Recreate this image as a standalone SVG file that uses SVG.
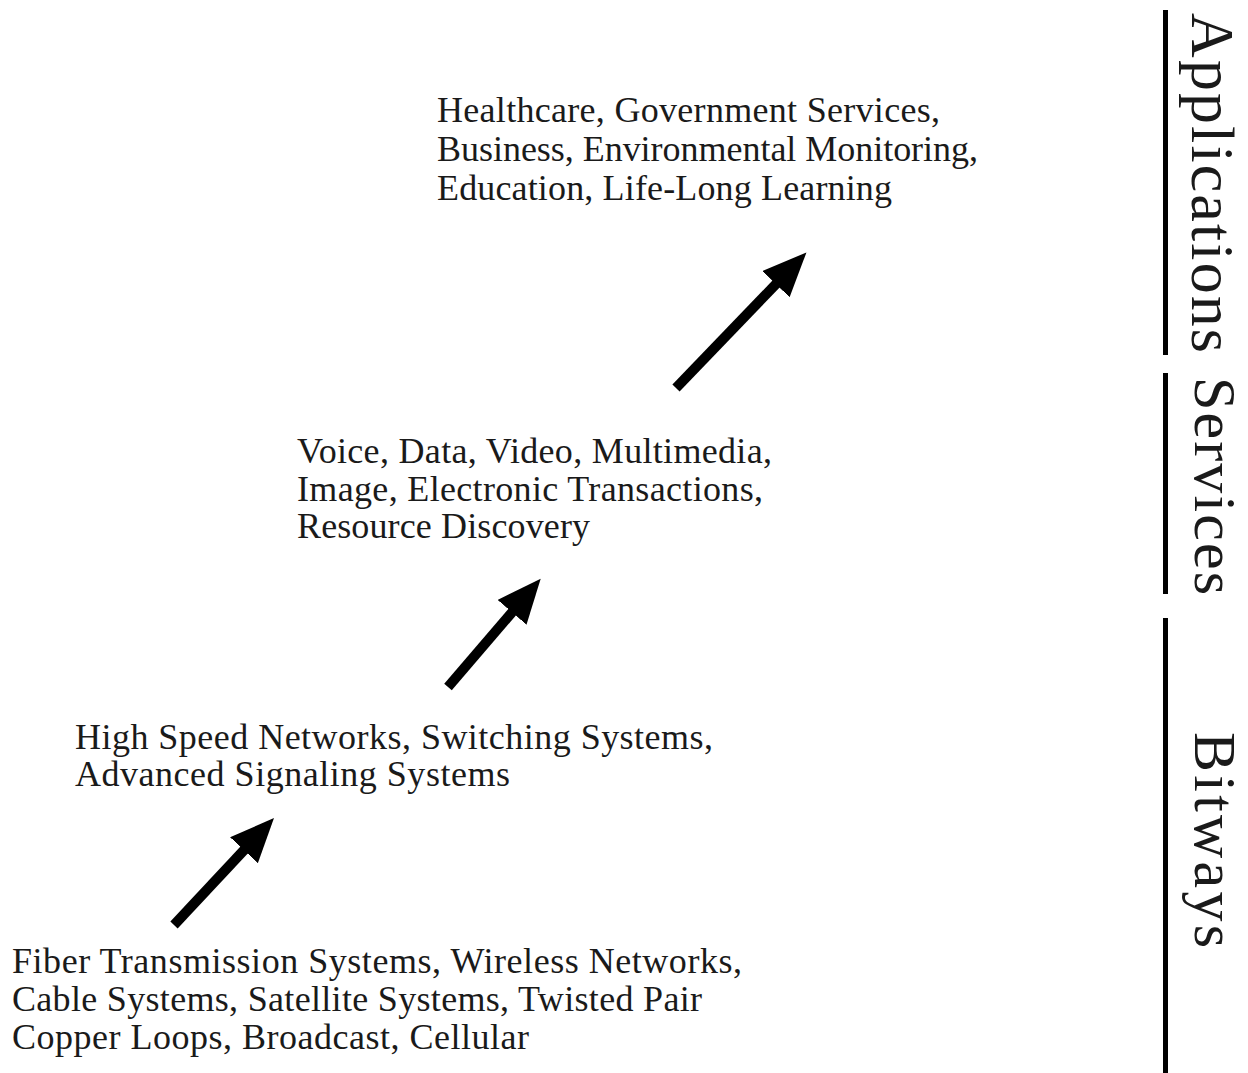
<svg xmlns="http://www.w3.org/2000/svg" width="1248" height="1073" viewBox="0 0 1248 1073">
<defs>
<style>
.t{font-family:"Liberation Serif","Times New Roman",serif;font-size:36px;fill:#1a1a1a}
.v{font-family:"Liberation Serif","Times New Roman",serif;fill:#1a1a1a}
.bar{fill:#000}
.arr{stroke:#000;stroke-width:10;fill:none;stroke-linecap:butt}
</style>
<marker id="ah" markerUnits="userSpaceOnUse" markerWidth="46" markerHeight="40" refX="3" refY="19" orient="auto">
<path d="M0,0 L44,19 L0,38 Z" fill="#000"/>
</marker>
</defs>
<rect width="1248" height="1073" fill="#fff"/>

<g id="applications-level">
<text class="t" x="437" y="122" textLength="503">Healthcare, Government Services,</text>
<text class="t" x="437" y="161" textLength="541">Business, Environmental Monitoring,</text>
<text class="t" x="437" y="200" textLength="455">Education, Life-Long Learning</text>
</g>

<g id="services-level">
<text class="t" x="297" y="463" textLength="475">Voice, Data, Video, Multimedia,</text>
<text class="t" x="297" y="501" textLength="466">Image, Electronic Transactions,</text>
<text class="t" x="297" y="538" textLength="293">Resource Discovery</text>
</g>

<g id="network-level">
<text class="t" x="75" y="749" textLength="638">High Speed Networks, Switching Systems,</text>
<text class="t" x="75" y="786" textLength="435">Advanced Signaling Systems</text>
</g>

<g id="transmission-level">
<text class="t" x="12" y="973" textLength="730">Fiber Transmission Systems, Wireless Networks,</text>
<text class="t" x="12" y="1011" textLength="690">Cable Systems, Satellite Systems, Twisted Pair</text>
<text class="t" x="12" y="1049" textLength="517">Copper Loops, Broadcast, Cellular</text>
</g>

<g id="layer-applications">
<rect class="bar" x="1163" y="10" width="5" height="345"/>
<text class="v" font-size="62" transform="translate(1192,13) rotate(90)" textLength="340">Applications</text>
</g>
<g id="layer-services">
<rect class="bar" x="1163" y="373" width="5" height="221"/>
<text class="v" font-size="60" transform="translate(1195,377) rotate(90)" textLength="218">Services</text>
</g>
<g id="layer-bitways">
<rect class="bar" x="1163" y="618" width="5" height="455"/>
<text class="v" font-size="60" transform="translate(1195,732) rotate(90)" textLength="216">Bitways</text>
</g>

<g id="connectors">
<line class="arr" x1="174" y1="925" x2="246" y2="848" marker-end="url(#ah)"/>
<line class="arr" x1="448" y1="687" x2="514" y2="610" marker-end="url(#ah)"/>
<line class="arr" x1="676" y1="388" x2="778" y2="282" marker-end="url(#ah)"/>
</g>
</svg>
